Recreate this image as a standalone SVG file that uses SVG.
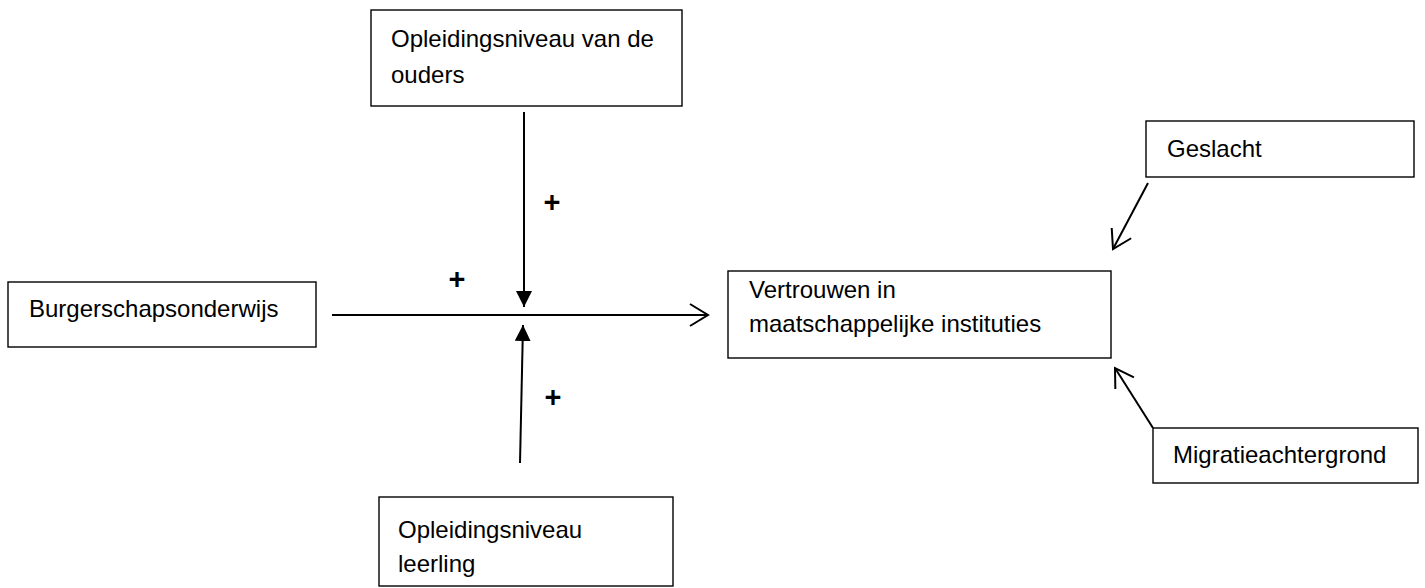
<svg xmlns="http://www.w3.org/2000/svg" width="1425" height="588" viewBox="0 0 1425 588">
<style>
.box{fill:#fff;stroke:#000;stroke-width:1.4}
.t{font-family:"Liberation Sans",Arial,sans-serif;font-size:24px;fill:#000}
.plus{font-family:"Liberation Sans",Arial,sans-serif;font-size:29px;font-weight:bold;fill:#000}
.c{stroke:#000;stroke-width:2;fill:none}
</style>
<defs>
<marker id="open" markerUnits="userSpaceOnUse" markerWidth="24" markerHeight="26" refX="20" refY="12" orient="auto" viewBox="0 0 24 24">
<path d="M2,1 L20,12 L2,23" fill="none" stroke="#000" stroke-width="2"/>
</marker>
<marker id="fill" markerUnits="userSpaceOnUse" markerWidth="18" markerHeight="16" refX="16" refY="8" orient="auto" viewBox="0 0 18 16">
<path d="M0,0 L16,8 L0,16 Z" fill="#000"/>
</marker>
</defs>
<rect width="1425" height="588" fill="#fff"/>
<g id="connectors">
<line class="c" x1="332" y1="315" x2="708" y2="315" marker-end="url(#open)"/>
<line class="c" x1="524" y1="112" x2="524" y2="307" marker-end="url(#fill)"/>
<line class="c" x1="520" y1="463" x2="523" y2="325" marker-end="url(#fill)"/>
<line class="c" x1="1148" y1="183" x2="1113" y2="249" marker-end="url(#open)"/>
<line class="c" x1="1153" y1="428" x2="1115" y2="368" marker-end="url(#open)"/>
<text class="plus" x="552" y="212" text-anchor="middle">+</text>
<text class="plus" x="457" y="289" text-anchor="middle">+</text>
<text class="plus" x="553" y="407" text-anchor="middle">+</text>
</g>
<g id="node-ouders">
<rect class="box" x="371" y="10" width="311" height="96"/>
<text class="t" x="391" y="47">Opleidingsniveau van de</text>
<text class="t" x="391" y="83">ouders</text>
</g>
<g id="node-burgerschap">
<rect class="box" x="8" y="282" width="308" height="65"/>
<text class="t" x="29" y="317">Burgerschapsonderwijs</text>
</g>
<g id="node-vertrouwen">
<rect class="box" x="728" y="271" width="383" height="87"/>
<text class="t" x="749" y="298">Vertrouwen in</text>
<text class="t" x="749" y="332">maatschappelijke instituties</text>
</g>
<g id="node-leerling">
<rect class="box" x="379" y="497" width="294" height="89"/>
<text class="t" x="398" y="538">Opleidingsniveau</text>
<text class="t" x="398" y="572">leerling</text>
</g>
<g id="node-geslacht">
<rect class="box" x="1146" y="121" width="268" height="56"/>
<text class="t" x="1167" y="157">Geslacht</text>
</g>
<g id="node-migratie">
<rect class="box" x="1153" y="428" width="265" height="55"/>
<text class="t" x="1173" y="463">Migratieachtergrond</text>
</g>
</svg>
